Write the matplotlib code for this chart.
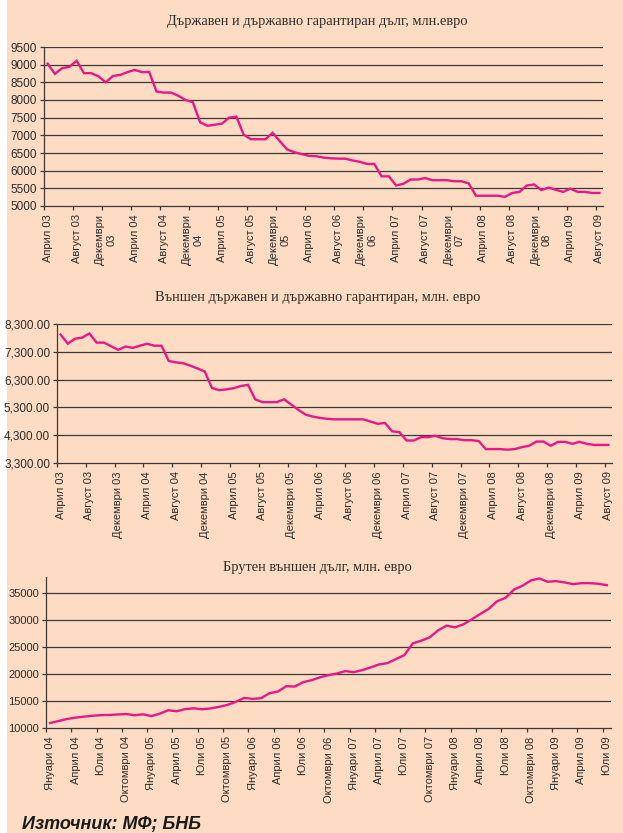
# Bulgarian government / external debt, three stacked line charts

import numpy as np
import matplotlib.pyplot as plt
from matplotlib.patches import Rectangle
from matplotlib.ticker import StrMethodFormatter

plt.rcParams['font.family'] = ['Liberation Sans', 'DejaVu Sans']

# monthly, April 03 .. August 09
gov_debt = [9030, 8740, 8900, 8940, 9110, 8760, 8760, 8670, 8500, 8680,
            8710, 8790, 8850, 8790, 8790, 8240, 8210, 8210, 8120, 8000,
            7940, 7370, 7270, 7300, 7330, 7500, 7530, 7020, 6890, 6890,
            6890, 7070, 6830, 6600, 6520, 6470, 6420, 6410, 6370, 6350,
            6340, 6340, 6290, 6250, 6190, 6190, 5840, 5840, 5580, 5630,
            5750, 5750, 5790, 5730, 5730, 5730, 5700, 5700, 5640, 5290,
            5290, 5290, 5290, 5260, 5370, 5400, 5580, 5610, 5450, 5520,
            5460, 5400, 5490, 5400, 5400, 5370, 5370]

# monthly, April 03 .. August 09
ext_gov_debt = [7920, 7590, 7770, 7810, 7960, 7630, 7630, 7500, 7370, 7490,
                7440, 7520, 7590, 7520, 7520, 6970, 6920, 6890, 6800, 6700,
                6590, 6000, 5920, 5950, 5990, 6070, 6110, 5590, 5490, 5490,
                5490, 5590, 5400, 5210, 5040, 4970, 4920, 4890, 4870, 4870,
                4870, 4870, 4870, 4790, 4710, 4740, 4440, 4410, 4110, 4110,
                4230, 4230, 4280, 4190, 4160, 4160, 4120, 4120, 4090, 3800,
                3800, 3800, 3780, 3800, 3870, 3920, 4070, 4070, 3920, 4060,
                4060, 3990, 4060, 3990, 3950, 3950, 3950]

# monthly, January 04 .. July 09
gross_ext_debt = [10930, 11300, 11670, 11920, 12110, 12260, 12380, 12420, 12510, 12600,
                  12360, 12540, 12200, 12670, 13290, 13100, 13500, 13660, 13470, 13630,
                  13910, 14280, 14840, 15580, 15400, 15520, 16450, 16760, 17750, 17690,
                  18500, 18870, 19400, 19800, 20110, 20550, 20360, 20730, 21230, 21790,
                  22030, 22780, 23520, 25690, 26190, 26810, 28110, 28980, 28670, 29230,
                  30160, 31150, 32090, 33510, 34130, 35680, 36370, 37360, 37730, 37110,
                  37230, 36990, 36680, 36860, 36860, 36740, 36490]

labels1 = ['Април 03', 'Август 03', 'Декември\n03', 'Април 04', 'Август 04',
           'Декември\n04', 'Април 05', 'Август 05', 'Декември\n05', 'Април 06',
           'Август 06', 'Декември\n06', 'Април 07', 'Август 07', 'Декември\n07',
           'Април 08', 'Август 08', 'Декември\n08', 'Април 09', 'Август 09']

labels2 = ['Април 03', 'Август 03', 'Декември 03', 'Април 04', 'Август 04',
           'Декември 04', 'Април 05', 'Август 05', 'Декември 05', 'Април 06',
           'Август 06', 'Декември 06', 'Април 07', 'Август 07', 'Декември 07',
           'Април 08', 'Август 08', 'Декември 08', 'Април 09', 'Август 09']

labels3 = ['Януари 04', 'Април 04', 'Юли 04', 'Октомври 04', 'Януари 05',
           'Април 05', 'Юли 05', 'Октомври 05', 'Януари 06', 'Април 06',
           'Юли 06', 'Октомври 06', 'Януари 07', 'Април 07', 'Юли 07',
           'Октомври 07', 'Януари 08', 'Април 08', 'Юли 08', 'Октомври 08',
           'Януари 09', 'Април 09', 'Юли 09']

titles = ['Държавен и държавно гарантиран дълг, млн.евро',
          'Външен държавен и държавно гарантиран, млн. евро',
          'Брутен външен дълг, млн. евро']

BG = '#fddcc3'
LINE = '#e8178a'
GRID = '#3a3a3a'
TXT = '#2b2b2b'

fig = plt.figure(figsize=(6.23, 8.33), dpi=100)
fig.patch.set_facecolor('white')
fig.patches.append(Rectangle((7 / 623, 0), 1, 1, transform=fig.transFigure,
                             facecolor=BG, edgecolor='none', zorder=-10))


def draw(rect, values, ylim, yticks, xlabels, step, yfmt, ysize):
    ax = fig.add_axes(rect)
    ax.set_facecolor('none')
    n = len(values)
    x = np.arange(n) + 0.5
    ax.plot(x, values, color=LINE, lw=1.7, solid_joinstyle='miter', zorder=3)
    ax.set_xlim(0, n)
    ax.set_ylim(*ylim)
    ax.set_yticks(yticks)
    ax.yaxis.set_major_formatter(StrMethodFormatter(yfmt))
    for v in yticks[1:]:
        ax.axhline(v, color=GRID, lw=0.9, zorder=1)
    for s in ['top', 'right']:
        ax.spines[s].set_visible(False)
    for s in ['left', 'bottom']:
        ax.spines[s].set_color(GRID)
        ax.spines[s].set_linewidth(0.9)
    pos = np.arange(len(xlabels)) * step
    ax.set_xticks(pos)
    ax.set_xticks(pos + 0.5, minor=True)
    ax.set_xticklabels(xlabels, minor=True, rotation=90, fontsize=8,
                       color=TXT, multialignment='center')
    ax.tick_params(axis='x', which='major', labelbottom=False, length=3,
                   color=GRID, width=0.9)
    ax.tick_params(axis='x', which='minor', length=0, pad=6)
    ax.tick_params(axis='y', length=3, color=GRID, width=0.9, pad=2,
                   labelsize=ysize, labelcolor=TXT)
    return ax


draw([44 / 623, 1 - 206 / 833, 559 / 623, 159 / 833], gov_debt,
     (5000, 9500), list(range(5000, 10000, 500)), labels1, 4, '{x:.0f}', 8.5)
draw([57 / 623, 1 - 463 / 833, 555 / 623, 139 / 833], ext_gov_debt,
     (3300, 8300), list(range(3300, 8400, 1000)), labels2, 4, '{x:,.2f}', 8.5)
draw([46 / 623, 1 - 728 / 833, 565 / 623, 151 / 833], gross_ext_debt,
     (10000, 38000), list(range(10000, 36000, 5000)), labels3, 3, '{x:.0f}', 8)

for y, t in zip([1 - 21 / 833, 1 - 298 / 833, 1 - 567 / 833], titles):
    fig.text(0.51, y, t, ha='center', va='center', fontsize=10.4,
             family='Liberation Serif', color=TXT)

fig.text(22 / 623, 1 - 829 / 833, 'Източник: МФ; БНБ', ha='left', va='baseline',
         fontsize=13, fontweight='bold', fontstyle='italic', color='#1a1a1a')

fig.savefig('out.png', dpi=100)
